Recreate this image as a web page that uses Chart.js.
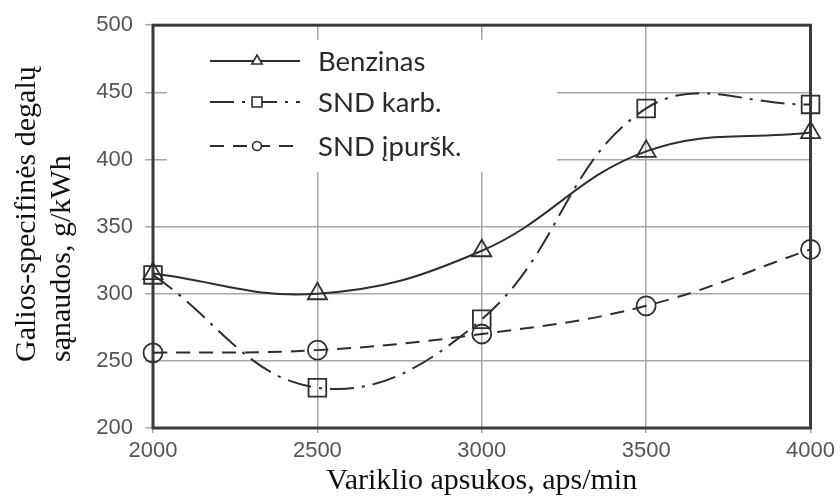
<!DOCTYPE html>
<html>
<head>
<meta charset="utf-8">
<script src="https://cdn.jsdelivr.net/npm/chart.js@4.4.1/dist/chart.umd.min.js"></script>
<style>
  body { margin: 0; background: #fff; }
  #wrap { width: 840px; height: 497px; }
</style>
</head>
<body>
<div id="wrap"><canvas id="fuelChart"></canvas></div>
<script>
// engine speed, rpm
const rpm = [2000, 2500, 3000, 3500, 4000];
// specific fuel consumption, g/kWh
const benzinas = [315, 300, 332, 406, 420];
const sndKarb = [314, 230, 281, 438, 441];
const sndIpursk = [256, 258, 270, 291, 333];

const seriesNames = ['Benzinas', 'SND karb.', 'SND įpuršk.'];
const xTicks = [2000, 2500, 3000, 3500, 4000];
const yTicks = [200, 250, 300, 350, 400, 450, 500];
const yTitleLines = ['Galios-specifinės degalų', 'sąnaudos, g/kWh'];
const xTitle = 'Variklio apsukos, aps/min';

const lineColor = '#2e2e2e';
const toPoints = vals => vals.map((v, i) => ({ x: rpm[i], y: v }));

const styles = [
  { dash: [], point: 'triangle', radius: 11, legendRadius: 6 },
  { dash: [24, 8, 3, 8], point: 'rect', radius: 12.5, legendRadius: 7 },
  { dash: [14, 9], point: 'circle', radius: 9.5, legendRadius: 4.5 }
];

// frame, legend panel, legend and the rotated y title
const decor = {
  id: 'decor',
  beforeDatasetsDraw(chart) {
    const { ctx, chartArea: a } = chart;
    ctx.save();
    ctx.fillStyle = '#fff';
    ctx.fillRect(167, 40, 390, 132);
    ctx.strokeStyle = '#3a3a3a';
    ctx.lineWidth = 3;
    ctx.strokeRect(a.left, a.top, a.right - a.left, a.bottom - a.top);
    ctx.restore();
  },
  afterDraw(chart) {
    const { ctx } = chart;
    ctx.save();
    const rows = [61, 102, 146];
    seriesNames.forEach((name, i) => {
      const y = rows[i];
      ctx.strokeStyle = lineColor;
      ctx.lineWidth = 2;
      ctx.setLineDash(styles[i].dash);
      ctx.beginPath();
      ctx.moveTo(210, y);
      ctx.lineTo(300, y);
      ctx.stroke();
      ctx.setLineDash([]);
      ctx.fillStyle = '#fff';
      ctx.lineWidth = 1.6;
      Chart.helpers.drawPoint(ctx, {
        pointStyle: styles[i].point, radius: styles[i].legendRadius,
        rotation: 0, borderWidth: 1.6
      }, 257, y);
      ctx.fillStyle = '#2a2a2a';
      ctx.font = '27.5px Lato';
      ctx.textBaseline = 'middle';
      ctx.textAlign = 'left';
      ctx.fillText(name, 318, y + 1);
    });

    ctx.fillStyle = '#111';
    ctx.font = '30px "Liberation Serif"';
    ctx.textAlign = 'left';
    ctx.textBaseline = 'alphabetic';
    ctx.translate(0, 362);
    ctx.rotate(-Math.PI / 2);
    ctx.fillText(yTitleLines[0], 0, 35);
    ctx.fillText(yTitleLines[1], 0, 70);
    ctx.restore();
  }
};

const datasets = [benzinas, sndKarb, sndIpursk].map((vals, i) => ({
  label: seriesNames[i],
  data: toPoints(vals),
  borderColor: lineColor,
  borderWidth: 2,
  borderDash: styles[i].dash,
  tension: 0.4,
  pointStyle: styles[i].point,
  pointRadius: styles[i].radius,
  pointBorderWidth: 1.8,
  pointBorderColor: lineColor,
  pointBackgroundColor: 'rgba(0,0,0,0)',
  clip: false
}));

new Chart(document.getElementById('fuelChart'), {
  type: 'line',
  data: { datasets },
  options: {
    animation: false,
    responsive: true,
    maintainAspectRatio: false,
    layout: { padding: { top: 19, right: 28, left: 0, bottom: 0 } },
    plugins: { legend: { display: false }, tooltip: { enabled: false } },
    scales: {
      x: {
        type: 'linear',
        min: 2000,
        max: 4000,
        afterFit: s => { s.height = 69; },
        afterBuildTicks: s => { s.ticks = xTicks.map(v => ({ value: v })); },
        grid: { color: '#a8a8a8', lineWidth: 1.5, tickLength: 5 },
        border: { display: false },
        ticks: {
          color: '#555', padding: 5,
          font: { family: 'Liberation Sans', size: 22 },
          callback: v => String(v)
        },
        title: {
          display: true, text: xTitle, color: '#111',
          font: { family: 'Liberation Serif', size: 30 },
          padding: { top: 0, bottom: -2 }
        }
      },
      y: {
        min: 200,
        max: 500,
        afterFit: s => { s.width = 153; },
        afterBuildTicks: s => { s.ticks = yTicks.map(v => ({ value: v })); },
        grid: { color: '#a8a8a8', lineWidth: 1.5, tickLength: 8 },
        border: { display: false },
        ticks: {
          color: '#555', padding: 12,
          font: { family: 'Liberation Sans', size: 22 },
          callback: v => String(v)
        }
      }
    }
  },
  plugins: [decor]
});
</script>
</body>
</html>
